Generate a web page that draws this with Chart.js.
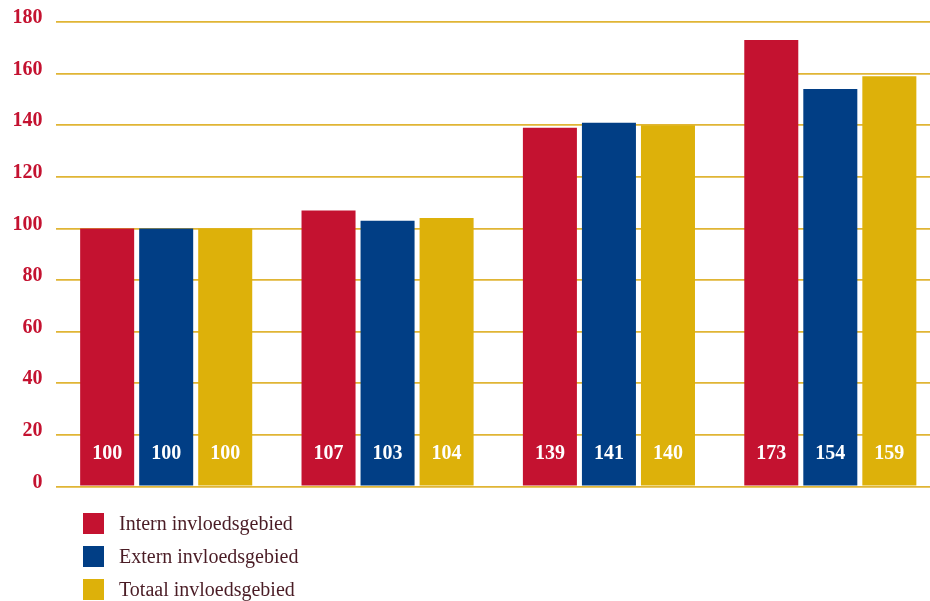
<!DOCTYPE html>
<html>
<head>
<meta charset="utf-8">
<script src="https://cdn.jsdelivr.net/npm/chart.js@4/dist/chart.umd.min.js"></script>
<style>
  html, body { margin: 0; padding: 0; background: #fff; overflow: hidden; }
  #wrap { width: 930px; height: 601px; overflow: hidden; position: relative; }
  canvas { display: block; position: absolute; left: 0; top: -3px; }
</style>
</head>
<body>
<div id="wrap"><canvas id="c" width="941" height="604"></canvas></div>
<script>
// Index values per period (base = 100)
const categories = ['1', '2', '3', '4'];
const seriesNames = ['Intern invloedsgebied', 'Extern invloedsgebied', 'Totaal invloedsgebied'];
const internValues = [100, 107, 139, 173];
const externValues = [100, 103, 141, 154];
const totaalValues = [100, 104, 140, 159];
const yTicks = [0, 20, 40, 60, 80, 100, 120, 140, 160, 180];

const colors = ['#c41230', '#013e85', '#ddb10a'];
const serif = '"Liberation Serif", "Times New Roman", serif';

// White value labels near the foot of each bar
const barLabels = {
  id: 'barLabels',
  afterDatasetsDraw(chart) {
    const ctx = chart.ctx;
    ctx.save();
    ctx.fillStyle = '#ffffff';
    ctx.font = 'bold 20px ' + serif;
    ctx.textAlign = 'center';
    ctx.textBaseline = 'middle';
    chart.data.datasets.forEach((ds, i) => {
      chart.getDatasetMeta(i).data.forEach((bar, j) => {
        ctx.fillText(String(ds.data[j]), bar.x, bar.base - 32);
      });
    });
    ctx.restore();
  }
};

// Vertical legend under the plot
const columnLegend = {
  id: 'columnLegend',
  afterDraw(chart) {
    const ctx = chart.ctx;
    ctx.save();
    ctx.font = '20px ' + serif;
    ctx.textBaseline = 'middle';
    ctx.textAlign = 'left';
    chart.data.datasets.forEach((ds, i) => {
      const cy = 527 + i * 33;
      ctx.fillStyle = ds.backgroundColor;
      ctx.fillRect(83, cy - 11, 21, 21);
      ctx.fillStyle = '#4a1c25';
      ctx.fillText(ds.label, 119, cy + 1);
    });
    ctx.restore();
  }
};

new Chart(document.getElementById('c'), {
  type: 'bar',
  data: {
    labels: categories,
    datasets: [
      { label: seriesNames[0], data: internValues, backgroundColor: colors[0] },
      { label: seriesNames[1], data: externValues, backgroundColor: colors[1] },
      { label: seriesNames[2], data: totaalValues, backgroundColor: colors[2] }
    ]
  },
  options: {
    responsive: false,
    animation: false,
    devicePixelRatio: 1,
    categoryPercentage: 0.8,
    barPercentage: 0.915,
    layout: { padding: { top: 18.5, bottom: 114.5, left: 0, right: 0 } },
    plugins: {
      legend: { display: false },
      tooltip: { enabled: false }
    },
    scales: {
      x: { display: false },
      y: {
        min: 0,
        max: 180,
        afterBuildTicks(axis) { axis.ticks = yTicks.map(v => ({ value: v })); },
        afterFit(axis) { axis.width = 55.5; },
        border: { display: false },
        grid: { color: '#e0b535', lineWidth: 1.8, drawTicks: false },
        ticks: {
          padding: 13,
          labelOffset: -4,
          color: '#c41230',
          font: { family: serif, size: 20, weight: 'bold' }
        }
      }
    }
  },
  plugins: [barLabels, columnLegend]
});
</script>
</body>
</html>
